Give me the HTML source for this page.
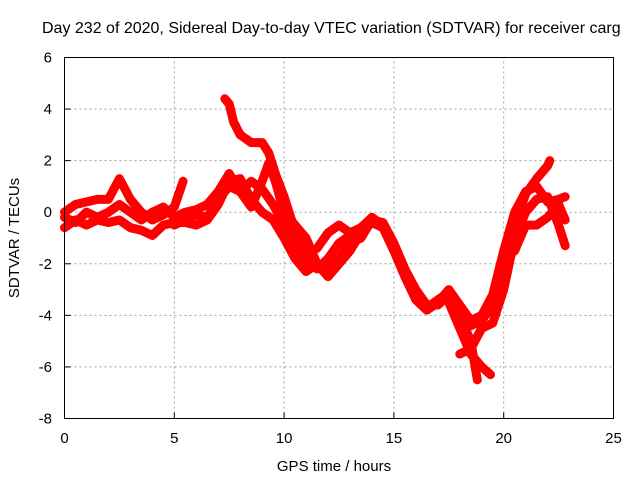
<!DOCTYPE html>
<html><head><meta charset="utf-8"><style>
body{margin:0;background:#fff}
svg text{font-family:"Liberation Sans",sans-serif;font-size:15px;fill:#000}
</style></head><body>
<svg id="chart" width="640" height="480" viewBox="0 0 640 480" xmlns="http://www.w3.org/2000/svg">
<text x="42" y="33" style="font-size:16px">Day 232 of 2020, Sidereal Day-to-day VTEC variation (SDTVAR) for receiver carg</text>
<text transform="translate(19,238) rotate(-90)" text-anchor="middle">SDTVAR / TECUs</text>
<text x="334" y="471" text-anchor="middle">GPS time / hours</text>
<g id="grid"></g><g id="ticks"></g><g id="series"></g>
<rect x="64.5" y="57.5" width="549" height="361" fill="none" stroke="#000" stroke-width="1"/>
</svg>
<script>
const xTicks=[0,5,10,15,20,25];
const yTicks=[-8,-6,-4,-2,0,2,4,6];
const s1t=[0,0.5,1,1.5,2,2.5,3,3.5,4,4.5,5,5.4];
const s1v=[0,0.3,0.4,0.5,0.5,1.3,0.5,0,-0.3,-0.1,0.2,1.2];
const s2t=[0,0.5,1,1.5,2,2.5,3,3.5,4,4.5,5,5.5,6,6.5,7,7.5,8,8.5,9,9.5,10,10.5,11,11.5,12,12.5,13,13.5,14,14.5,15,15.5,16,16.5,17,17.5,18,18.5,19,19.5,20,20.5,21,21.5,22,22.5,22.8];
const s2v=[-0.6,-0.3,-0.5,-0.3,-0.4,-0.3,-0.6,-0.7,-0.9,-0.5,-0.4,-0.4,-0.5,-0.3,0.3,1.2,1.3,0.5,0,-0.3,-1,-1.8,-2.3,-2,-2.5,-2,-1.5,-0.8,-0.4,-0.6,-1.5,-2.5,-3.4,-3.8,-3.5,-3,-3.6,-4.2,-4,-3.2,-1.5,0,0.8,1,0.4,0.5,0.6];
const s3t=[7.3,7.5,7.7,8,8.5,9,9.3,9.6,10,10.3,10.6,11,11.5,12,12.5,13,13.5,14,14.5,15,15.5,16,16.5,17,17.5,18,18.5,18.8];
const s3v=[4.4,4.2,3.5,3,2.7,2.7,2.3,1.5,0.6,-0.2,-1,-1.6,-1.4,-0.8,-0.5,-0.8,-0.6,-0.3,-0.4,-1.2,-2.2,-3,-3.6,-3.6,-3.2,-4,-5,-6.5];
const s4t=[0,0.5,1,1.5,2,2.5,3,3.5,4,4.5,5,5.5,6,6.5,7,7.5,8,8.5,9,9.3,9.6,10,10.5,11,11.5,12,12.5,13,13.5,14];
const s4v=[-0.2,-0.4,0,-0.2,0,0.3,0,-0.3,0,0.2,-0.2,0,0.1,0.3,0.8,1.5,0.8,0.2,1.2,1.9,1.2,0,-0.5,-1,-2,-2.3,-1.8,-1.2,-1,-0.3];
const s5t=[5,5.5,6,6.5,7,7.5,8,8.5,9,9.5,10,10.5,11,11.5,12,12.5,13,13.5,14];
const s5v=[-0.5,-0.3,-0.1,-0.2,0.5,1,0.8,1.2,0.9,0.3,-0.5,-1.2,-1.8,-2.2,-1.8,-1.2,-0.9,-0.6,-0.2];
const s6t=[17.5,18,18.5,19,19.4];
const s6v=[-3.5,-4.5,-5.5,-6,-6.3];
const s7t=[18,18.5,19,19.5,20,20.5,21,21.5,22,22.5,22.8];
const s7v=[-5.5,-5.3,-4.5,-4.3,-3,-1,0,0.5,0.6,-0.5,-1.3];
const s8t=[20.5,21,21.5,22,22.5,22.8];
const s8v=[-1.5,-0.5,-0.5,-0.2,0.3,-0.3];
const s9t=[20.5,21,21.5,22,22.1];
const s9v=[-0.5,0.7,1.3,1.8,2.0];
const s10t=[14,14.5,15,15.5,16,16.5,17,17.5,18,18.5,19,19.5,20];
const s10v=[-0.2,-0.5,-1.3,-2.4,-3.2,-3.7,-3.4,-3.1,-3.8,-4.4,-4.2,-3.6,-2.2];
const series=[[s1t,s1v],[s2t,s2v],[s3t,s3v],[s4t,s4v],[s5t,s5v],[s6t,s6v],[s7t,s7v],[s8t,s8v],[s9t,s9v],[s10t,s10v]];
const X0=64.5,X1=613.5,Y0=418.5,Y1=57.5;
const xs=v=>X0+(v-0)/(25-0)*(X1-X0);
const ys=v=>Y0-(v+8)/(6+8)*(Y0-Y1);
const NS="http://www.w3.org/2000/svg";
const grid=document.getElementById('grid'),ticks=document.getElementById('ticks'),sg=document.getElementById('series');
function mk(tag,attrs,parent){const e=document.createElementNS(NS,tag);for(const k in attrs)e.setAttribute(k,attrs[k]);parent.appendChild(e);return e;}
xTicks.forEach(t=>{const x=xs(t);
 if(t>0&&t<25){const g=mk('line',{x1:x,x2:x,y1:Y0,y2:Y1,stroke:'#a0a0a0','stroke-dasharray':'2,3'},grid);
 
 }
 const l=mk('text',{x:x,y:443,'text-anchor':'middle'},ticks);l.textContent=t;
 
 
 mk('line',{x1:x,x2:x,y1:Y0,y2:Y0-6,stroke:'#000'},ticks);
});
yTicks.forEach(t=>{const y=ys(t);
 if(t>-8&&t<6){const g=mk('line',{x1:X0,x2:X1,y1:y,y2:y,stroke:'#a0a0a0','stroke-dasharray':'2,3'},grid);
 
 }
 const l=mk('text',{x:52,y:y+5,'text-anchor':'end'},ticks);l.textContent=t;
 
 
 mk('line',{x1:X0,x2:X0+6,y1:y,y2:y,stroke:'#000'},ticks);
});
series.forEach(([t,v],i)=>{
 const pts=t.map((tt,j)=>xs(tt)+','+ys(v[j])).join(' ');
 const p=mk('polyline',{points:pts,fill:'none',stroke:'#ff0000','stroke-width':9,'stroke-linejoin':'round','stroke-linecap':'round'},sg);
 
 
});
</script>
</body></html>
